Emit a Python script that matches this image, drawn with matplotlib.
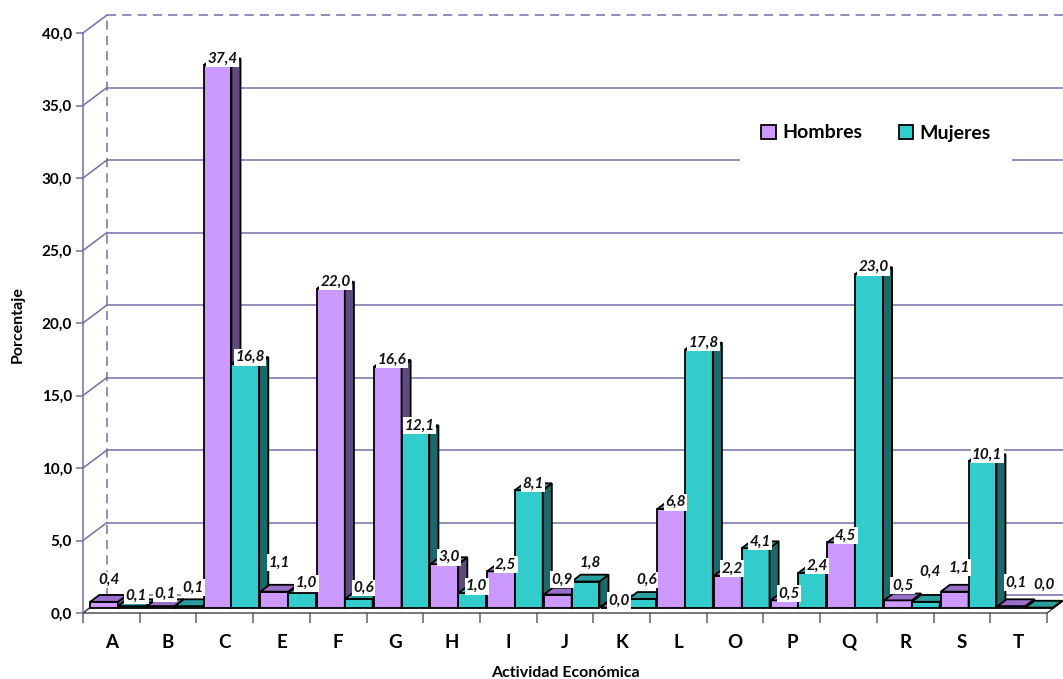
import matplotlib
matplotlib.use("Agg")
from matplotlib import pyplot as plt
from matplotlib.patches import Polygon, Patch

# datos
categorias = ['A', 'B', 'C', 'E', 'F', 'G', 'H', 'I', 'J', 'K', 'L', 'O', 'P', 'Q', 'R', 'S', 'T']
hombres = [0.4, 0.1, 37.4, 1.1, 22.0, 16.6, 3.0, 2.5, 0.9, 0.0, 6.8, 2.2, 0.5, 4.5, 0.5, 1.1, 0.1]
mujeres = [0.1, 0.1, 16.8, 1.0, 0.6, 12.1, 1.0, 8.1, 1.8, 0.6, 17.8, 4.1, 2.4, 23.0, 0.4, 10.1, 0.0]
yticks = [0, 5, 10, 15, 20, 25, 30, 35, 40]

# desplazamiento extra de etiquetas pequenas (px hacia arriba), como hace Excel
lift_h = [15, 6, 0, 22, 0, 0, 0, 0, 8, 0, 0, 0, 0, 0, 8, 17, 17]
lift_m = [4, 12, 0, 3, 4, 0, 0, 0, 12, 12, 0, 0, 0, 0, 23, 0, 16]

plt.rcParams['font.family'] = ['Lato', 'DejaVu Sans']
plt.rcParams['font.weight'] = 'bold'

W, H = 1063, 679
fig = plt.figure(figsize=(W / 100, H / 100), dpi=100)
ax_l, ax_b, ax_w, ax_h = 83, 66, 964, 580
ax = fig.add_axes([ax_l / W, ax_b / H, ax_w / W, ax_h / H])
n = len(categorias)
ax.set_xlim(-0.5, n - 0.5)
ax.set_ylim(0, 40)

px_x = ax_w / n     # px per category
px_y = ax_h / 40.0  # px per unit


def depth(t):
    # offset (in data units) of the oblique depth axis
    return 24 * t / px_x, 18 * t / px_y


grid_col = '#7070a8'
dxw, dyw = depth(1.0)
x0 = -0.5
# back wall + side wall gridlines
for v in yticks:
    ax.plot([x0, x0 + dxw], [v, v + dyw], color=grid_col, lw=1.1, clip_on=False, zorder=1)
    ls = (0, (6, 4)) if v == 40 else '-'
    ax.plot([x0 + dxw, n + 1], [v + dyw, v + dyw], color=grid_col, lw=1.1, ls=ls,
            clip_on=False, zorder=1)
ax.plot([x0 + dxw, x0 + dxw], [dyw, 40 + dyw], color=grid_col, lw=1.1, ls=(0, (6, 4)),
        clip_on=False, zorder=1)

# bars
t0, t1 = 0.3, 0.68
f_dx, f_dy = depth(t0)
b_dx, b_dy = depth(t1)
bw = 0.49
colores = {
    'h': ('#cc99ff', '#5f4a7e', '#9a6fca'),
    'm': ('#33cccc', '#1d6868', '#2a9e9e'),
}

# floor
floor = Polygon([(x0, 0), (n - 0.5, 0), (n - 0.5 + b_dx, b_dy), (x0 + b_dx, b_dy)],
                closed=True, facecolor='white', edgecolor='#404040', lw=1.0,
                clip_on=False, zorder=2)
ax.add_patch(floor)

z = 3
for i in range(n):
    for j, (vals, key, lifts) in enumerate([(hombres, 'h', lift_h), (mujeres, 'm', lift_m)]):
        v = vals[i]
        front, side, top = colores[key]
        xl = i - 0.5 + j * bw + f_dx
        xr = xl + bw
        ax.bar(xl, v, width=bw, bottom=f_dy, align='edge', color=front,
               edgecolor='black', lw=1.3, clip_on=False, zorder=z)
        sd = Polygon([(xr, f_dy), (xr, v + f_dy), (xr + b_dx - f_dx, v + b_dy),
                      (xr + b_dx - f_dx, b_dy)], closed=True, facecolor=side,
                     edgecolor='black', lw=1.3, clip_on=False, zorder=z)
        ax.add_patch(sd)
        tp = Polygon([(xl, v + f_dy), (xr, v + f_dy), (xr + b_dx - f_dx, v + b_dy),
                      (xl + b_dx - f_dx, v + b_dy)], closed=True, facecolor=top,
                     edgecolor='black', lw=1.3, clip_on=False, zorder=z)
        ax.add_patch(tp)
        z += 1
        # label
        m_dx, _ = depth((t0 + t1) / 2)
        lx = i - 0.5 + j * bw + bw / 2 + m_dx
        ly = v + b_dy + lifts[i] / px_y
        ax.text(lx, ly, f"{v:.1f}".replace('.', ','), ha='center', va='center',
                fontsize=11, fontstyle='italic', fontweight='bold', color='#111111',
                bbox=dict(facecolor='white', edgecolor='none', pad=1.0),
                clip_on=False, zorder=200)

# axes
for s in ['top', 'right', 'bottom']:
    ax.spines[s].set_visible(False)
ax.spines['left'].set_color(grid_col)
ax.spines['left'].set_linewidth(1.1)
ax.set_yticks(yticks)
ax.set_yticklabels([f"{v:.1f}".replace('.', ',') for v in yticks], fontsize=11,
                   fontweight='bold')
ax.tick_params(axis='y', length=5, color=grid_col, width=1.1, pad=3)

ax.set_xticks([k - 0.5 for k in range(n + 1)])
ax.set_xticklabels([])
ax.tick_params(axis='x', which='major', length=7, color='#707070', width=1.2)
ax.set_xticks(range(n), minor=True)
ax.set_xticklabels(categorias, minor=True, fontsize=13.5, fontweight='bold')
ax.tick_params(axis='x', which='minor', length=0, pad=15)
ax.patch.set_visible(False)

fig.text(565 / W, 1 - 673 / H, 'Actividad Económica', ha='center', va='center',
         fontsize=11.5, fontweight='bold')
fig.text(18 / W, 1 - 325 / H, 'Porcentaje', ha='center', va='center', rotation=90,
         fontsize=11.5, fontweight='bold')

handles = [Patch(facecolor=colores['h'][0], edgecolor='black', lw=1.3, label='Hombres'),
           Patch(facecolor=colores['m'][0], edgecolor='black', lw=1.3, label='Mujeres')]
leg = fig.legend(handles=handles, loc='center', bbox_to_anchor=(876 / W, 1 - 133 / H),
                 ncol=2, frameon=True, fancybox=False, framealpha=1, edgecolor='none',
                 facecolor='white', prop={'weight': 'bold', 'size': 14},
                 handlelength=0.75, handleheight=0.75, handletextpad=0.3,
                 columnspacing=1.9, borderpad=1.1)
leg.set_zorder(300)

fig.savefig('out.png', dpi=100)
